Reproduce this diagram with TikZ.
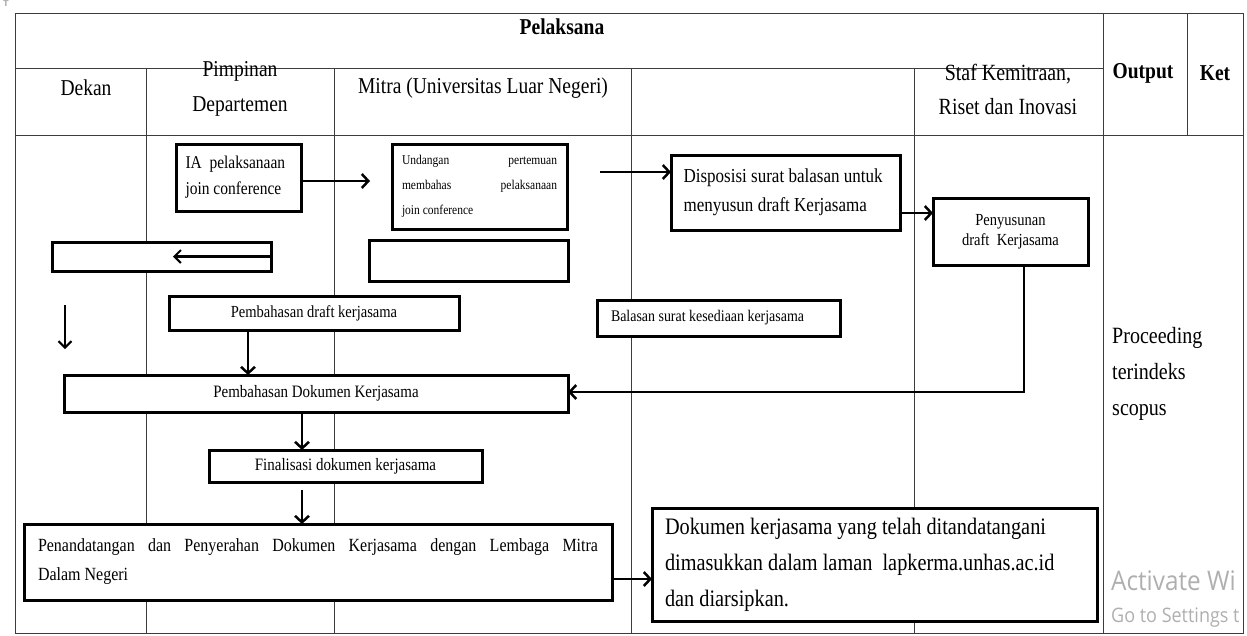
\documentclass[tikz,border=0pt]{standalone}
\usepackage{fontspec}
\setmainfont{Liberation Serif}[FakeStretch=0.86]
\newfontfamily\wmfont{Open Sans}[FakeStretch=0.9]
\usetikzlibrary{arrows.meta}
\definecolor{wmgray}{RGB}{175,175,175}
\definecolor{tblline}{RGB}{60,60,60}
\newcommand\spreadgap{\hskip 0pt plus 1filll\relax}
\newcommand\fsz[2]{\fontsize{#1}{#2}\selectfont}
\begin{document}
\begin{tikzpicture}[x=1pt,y=-1pt,
  tbl/.style={line width=1pt,draw=tblline},
  box/.style={draw,fill=white,line width=3pt,inner sep=0pt,outer sep=0pt},
  arr/.style={line width=2.5pt,-{Straight Barb[length=6.5pt,width=14pt]}},
  thinarr/.style={line width=2.1pt,-{Straight Barb[length=6.5pt,width=13pt]}},
  hdr/.style={inner sep=0pt,font=\fsz{22.7}{35}},
  hdrb/.style={inner sep=0pt,font=\bfseries\fsz{22.7}{35}}]
\useasboundingbox (0,0) rectangle (1247,635);
% table grid
\draw[tbl] (15,13) rectangle (1243,633);
\draw[tbl] (15,68) -- (1103,68);
\draw[tbl] (15,135) -- (1243,135);
\draw[tbl] (146,68) -- (146,633);
\draw[tbl] (334,68) -- (334,633);
\draw[tbl] (631,68) -- (631,633);
\draw[tbl] (914,68) -- (914,633);
\draw[tbl] (1103,13) -- (1103,633);
\draw[tbl] (1187,13) -- (1187,135);
% table handle
\node[inner sep=0pt,text=black!60,font=\sffamily\fsz{8}{8}] (handle) at (6,4) {T};
% header texts
\node[hdrb] (hpel) at (562,27) {Pelaksana};
\node[hdr] (hdek) at (86,88) {Dekan};
\node[hdr,align=center] (hpim) at (240,89) {Pimpinan\\Departemen};
\node[hdr] (hmit) at (483,88) {Mitra (Universitas Luar Negeri)};
\node[hdr,align=center,font=\fsz{23.2}{34}] (hstaf) at (1008,89) {Staf Kemitraan,\\Riset dan Inovasi};
\node[hdrb] (hout) at (1143,73) {Output};
\node[hdrb] (hket) at (1215,73) {Ket};
% boxes
\node[box,minimum width=125pt,minimum height=67pt,text width=106pt,align=flush left,font=\fsz{18}{26}] (ia) at (238.5,177.5) {IA\ \ pelaksanaan\\join conference};
\node[box,minimum width=175pt,minimum height=85pt,text width=155pt,align=flush left,font=\fsz{13.4}{25}] (und) at (479.5,186.5) {Undangan\spreadgap pertemuan\\membahas\spreadgap pelaksanaan\\join conference};
\node[box,minimum width=229pt,minimum height=75pt,text width=204pt,align=flush left,font=\fsz{19.8}{29}] (disp) at (785.5,192.5) {Disposisi surat balasan untuk\\menyusun draft Kerjasama};
\node[box,minimum width=155pt,minimum height=67pt,align=center,font=\fsz{16.9}{20}] (peny) at (1010.5,231.5) {Penyusunan\\draft\ \ Kerjasama};
\node[box,minimum width=219pt,minimum height=29pt] (e1) at (161.5,256.5) {};
\node[box,minimum width=199pt,minimum height=41pt] (e2) at (468.5,260.5) {};
\node[box,minimum width=290pt,minimum height=34pt,font=\fsz{16.9}{18}] (pdraft) at (314,313) {Pembahasan draft kerjasama};
\node[box,minimum width=243pt,minimum height=36pt,text width=215pt,align=flush left,font=\fsz{16.2}{16}] (bal) at (718.5,318) {Balasan surat kesediaan kerjasama};
\node[box,minimum width=504pt,minimum height=37pt,font=\fsz{17.4}{18}] (pd) at (316,393.5) {Pembahasan Dokumen Kerjasama};
\node[box,minimum width=273pt,minimum height=32pt,font=\fsz{17.4}{18}] (fin) at (345.5,466) {Finalisasi dokumen kerjasama};
\node[box,minimum width=588pt,minimum height=76pt,text width=560pt,align=flush left,font=\fsz{18.6}{29}] (pen) at (318,562) {Penandatangan\spreadgap dan\spreadgap Penyerahan\spreadgap Dokumen\spreadgap Kerjasama\spreadgap dengan\spreadgap Lembaga\spreadgap Mitra\\Dalam Negeri};
\node[box,minimum width=445pt,minimum height=113pt,text width=419pt,align=flush left,font=\fsz{23.6}{36}] (dok) at (874.5,564.5) {Dokumen kerjasama yang telah ditandatangani\\dimasukkan dalam laman\ \ lapkerma.unhas.ac.id\\dan diarsipkan.};
% output text
\node[inner sep=0pt,anchor=west,align=left,font=\fsz{23.3}{36}] (outp) at (1112,374) {Proceeding\\terindeks\\scopus};
% connector helper coordinates
\coordinate (a1) at (370,181);
\coordinate (a2) at (600,172);
\coordinate (a3) at (0,213);
\coordinate (a4) at (1024,392);
\coordinate (a5) at (173,256.5);
\coordinate (d1) at (65,305);
\coordinate (d2) at (65,349);
\coordinate (a6) at (248,0);
\coordinate (a7) at (302,0);
\coordinate (a8) at (302,490);
\coordinate (a9) at (0,579);
% connectors
\draw[arr] (ia.east |- a1) -- (a1);
\draw[arr] (a2) -- (disp.west |- a2);
\draw[arr] (disp.east |- a3) -- (peny.west |- a3);
\draw[arr] (peny.south -| a4) -- (a4) -- (pd.east |- a4);
\draw[thinarr] (e1.east |- a5) -- (a5);
\draw[thinarr] (d1) -- (d2);
\draw[arr] (pdraft.south -| a6) -- (pd.north -| a6);
\draw[arr] (pd.south -| a7) -- (fin.north -| a7);
\draw[arr] (a8) -- (pen.north -| a8);
\draw[arr] (pen.east |- a9) -- (dok.west |- a9);
% watermark (as visible)
\node[inner sep=0pt,anchor=base west,text=wmgray,font=\wmfont\fsz{27}{27}] (wm1) at (1111,590) {Activate Wi};
\node[inner sep=0pt,anchor=base west,text=wmgray,font=\wmfont\fsz{20}{20}] (wm2) at (1111,622) {Go to Settings t};
\end{tikzpicture}
\end{document}
